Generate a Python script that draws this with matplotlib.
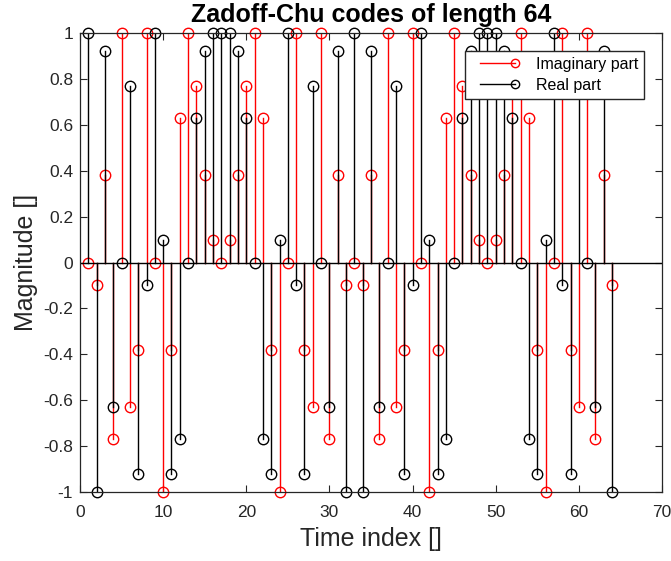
import numpy as np
import matplotlib
matplotlib.use('Agg')
import matplotlib.pyplot as plt
from matplotlib.lines import Line2D
from matplotlib.legend_handler import HandlerBase

plt.rcParams['font.family'] = ['Liberation Sans', 'DejaVu Sans']

# values (index 1..32, second half repeats)
real_half = [1, -1, 0.92, -0.63, 0, 0.77, -0.92, -0.1,
             1, 0.1, -0.92, -0.77, 0, 0.63, 0.92, 1,
             1, 1, 0.92, 0.63, 0, -0.77, -0.92, 0.1,
             1, -0.1, -0.92, 0.77, 0, -0.63, 0.92, -1]
imag_half = [0, -0.1, 0.38, -0.77, 1, -0.63, -0.38, 1,
             0, -1, -0.38, 0.63, 1, 0.77, 0.38, 0.1,
             0, 0.1, 0.38, 0.77, 1, 0.63, -0.38, -1,
             0, 1, -0.38, -0.63, 1, -0.77, 0.38, -0.1]
real_part = real_half + real_half
imag_part = imag_half + imag_half
idx = np.arange(1, len(real_part) + 1)

axcol = '#262626'


class StemHandler(HandlerBase):
    # line with the circle at its right end, like matlab's stem legend
    def create_artists(self, legend, orig_handle, xdescent, ydescent,
                       width, height, fontsize, trans):
        c = orig_handle.get_color()
        y = height / 2 - ydescent
        ln = Line2D([-xdescent + 7, width - xdescent], [y, y], color=c, lw=1)
        mk = Line2D([width - xdescent], [y], color=c, marker='o',
                    mfc='none', mec=c, ms=6, ls='none')
        ln.set_transform(trans)
        mk.set_transform(trans)
        return [ln, mk]


fig = plt.figure(figsize=(6.71, 5.61), dpi=100)
ax = fig.add_axes([0.1192, 0.123, 0.8674, 0.818])

for x, v in zip(idx, imag_part):
    ax.plot([x, x], [0, v], color='red', lw=1)
ax.plot(idx, imag_part, 'o', mfc='none', mec='red', ms=7.5, clip_on=False)
for x, v in zip(idx, real_part):
    ax.plot([x, x], [0, v], color='black', lw=1)
ax.plot(idx, real_part, 'o', mfc='none', mec='black', ms=7.5, clip_on=False)
ax.axhline(0, color='black', lw=1)

ax.set_xlim(0, 70)
ax.set_ylim(-1, 1)
ax.set_xticks(np.arange(0, 71, 10))
ax.set_yticks(np.arange(-1, 1.01, 0.2))
ax.set_yticklabels(['-1', '-0.8', '-0.6', '-0.4', '-0.2', '0',
                    '0.2', '0.4', '0.6', '0.8', '1'])
ax.tick_params(direction='in', top=True, right=True, length=5,
               color=axcol, labelcolor=axcol, labelsize=12.5)
ax.tick_params(axis='x', pad=9.5)
ax.tick_params(axis='y', pad=5)
for s in ax.spines.values():
    s.set_color(axcol)
    s.set_linewidth(0.9)

ax.set_title('Zadoff-Chu codes of length 64', fontsize=18, fontweight='bold', pad=8)
ax.set_xlabel('Time index []', fontsize=18, color=axcol, labelpad=5)
ax.set_ylabel('Magnitude []', fontsize=18, color=axcol, labelpad=4)

h_imag = Line2D([], [], color='red')
h_real = Line2D([], [], color='black')
ax.legend([h_imag, h_real], ['Imaginary part', 'Real part'],
          handler_map={Line2D: StemHandler()}, loc='upper right',
          bbox_to_anchor=(0.969, 0.961), borderaxespad=0, fontsize=11.5,
          fancybox=False, framealpha=1, edgecolor=axcol, borderpad=0.35,
          labelspacing=0.4, handlelength=2.8, handletextpad=1.3)

plt.savefig('out.png', dpi=100)
